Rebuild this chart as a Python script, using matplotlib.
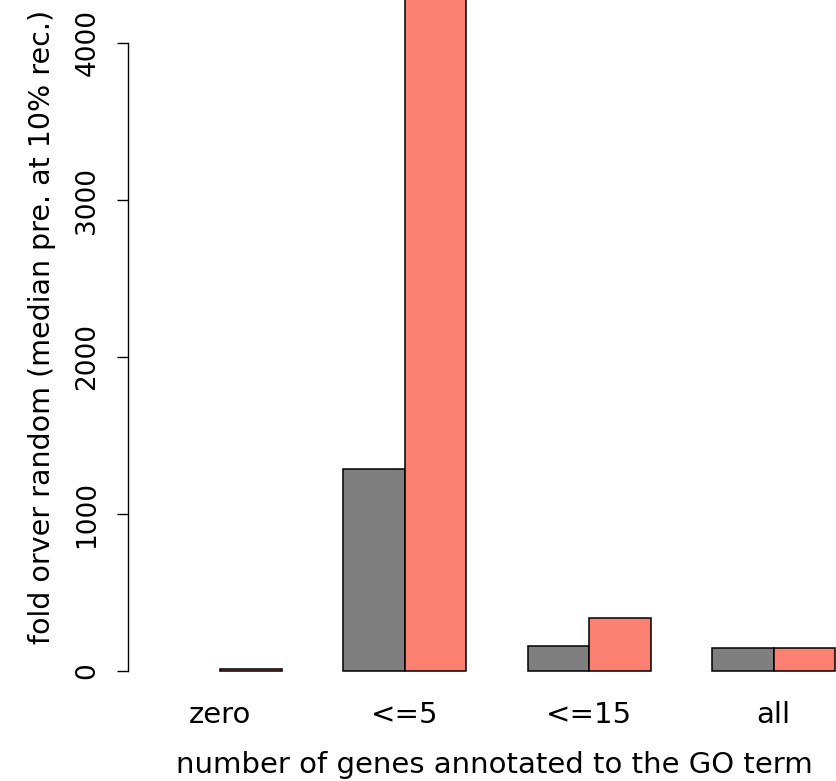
import numpy as np
import matplotlib
matplotlib.use("Agg")
import matplotlib.pyplot as plt

plt.rcParams['font.family'] = ['DejaVu Sans']

categories = ["zero", "<=5", "<=15", "all"]
gray_values = [np.nan, 1287, 161, 146]
red_values = [15, 4600, 340, 146]
yticks = [0, 1000, 2000, 3000, 4000]

W, H = 836, 781
fig = plt.figure(figsize=(W / 100, H / 100), dpi=100)

# pixel geometry
ax_left_px, ax_right_px = 128, 836
ax_top_px, ax_bot_px = 0, 700
ax = fig.add_axes([ax_left_px / W, (H - ax_bot_px) / H,
                   (ax_right_px - ax_left_px) / W, (ax_bot_px - ax_top_px) / H])

px_per_unit = 61.5
def u(px):
    return 4 + (px - 343) / px_per_unit
ax.set_xlim(u(ax_left_px), u(ax_right_px))
px_per_val = 0.157
ax.set_ylim(-(ax_bot_px - 671) / px_per_val, 671 / px_per_val)

n = len(categories)
idx = np.arange(n)
gray_left = 1 + 3 * idx
red_left = 2 + 3 * idx
lw = 1.1
ax.bar(gray_left, gray_values, width=1, align='edge', color='#7f7f7f',
       edgecolor='black', linewidth=lw)
ax.bar(red_left, red_values, width=1, align='edge', color='#fa8072',
       edgecolor='black', linewidth=lw)

for s in ['top', 'right', 'bottom']:
    ax.spines[s].set_visible(False)
ax.spines['left'].set_bounds(0, 4000)
ax.spines['left'].set_linewidth(1.0)

ax.set_yticks(yticks)
ax.set_yticklabels([str(v) for v in yticks], rotation=90, va='center')
ax.tick_params(axis='y', length=8, width=1.0, pad=12, labelsize=19)

ax.set_xticks(red_left.astype(float))
ax.set_xticklabels(categories)
ax.tick_params(axis='x', length=0, pad=1, labelsize=21)

ax.set_xlabel("number of genes annotated to the GO term", fontsize=21)
ax.xaxis.set_label_coords((494 - ax_left_px) / (ax_right_px - ax_left_px),
                          -(773 - ax_bot_px) / (ax_bot_px - ax_top_px))
ax.xaxis.label.set_va('baseline')

ax.set_ylabel("fold orver random (median pre. at 10% rec.)", fontsize=20.5)
ax.yaxis.set_label_coords((42 - ax_left_px) / (ax_right_px - ax_left_px),
                          (ax_bot_px - 327) / (ax_bot_px - ax_top_px))
ax.yaxis.label.set_va('center')

fig.savefig("out.png", dpi=100)
